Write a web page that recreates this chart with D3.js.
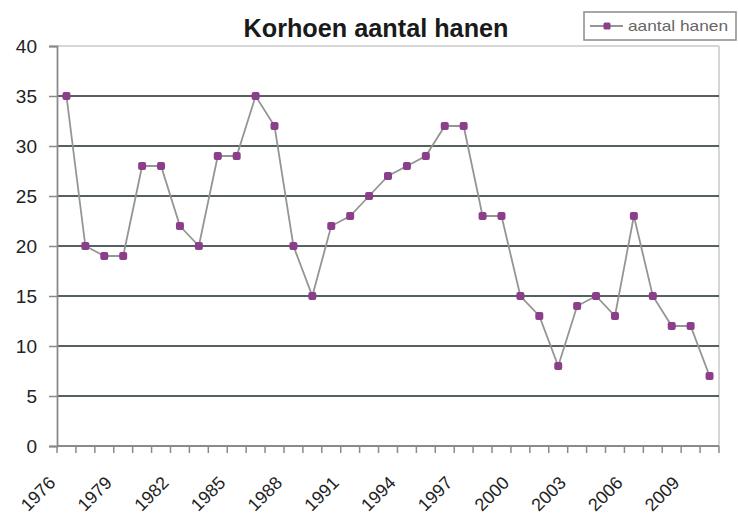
<!DOCTYPE html>
<html>
<head>
<meta charset="utf-8">
<script src="https://cdn.jsdelivr.net/npm/d3@7"></script>
<style>
  body { margin: 0; background: #fff; }
  svg { display: block; font-family: "Liberation Sans", Arial, sans-serif; }
</style>
</head>
<body>
<svg id="chart" width="738" height="520"></svg>
<script>
const years = d3.range(1976, 2011);
const hanen = [35,20,19,19,28,28,22,20,29,29,35,32,20,15,22,23,25,27,28,29,32,32,23,23,15,13,8,14,15,13,23,15,12,12,7];
const yTicks = [0,5,10,15,20,25,30,35,40];
const xTickLabels = [1976,1979,1982,1985,1988,1991,1994,1997,2000,2003,2006,2009];
const title = "Korhoen aantal hanen";
const seriesName = "aantal hanen";

const svg = d3.select("#chart");
const pL = 57, pR = 719, pT = 46, pB = 446;

const x = d3.scaleBand().domain(years).range([pL, pR]).padding(0);
const y = d3.scaleLinear().domain([0, 40]).range([pB, pT]);

// plot border (top, right)
svg.append("line").attr("x1", pL).attr("x2", pR).attr("y1", pT).attr("y2", pT)
  .attr("stroke", "#c8c8c8").attr("stroke-width", 1.5);
svg.append("line").attr("x1", pR).attr("x2", pR).attr("y1", pT).attr("y2", pB)
  .attr("stroke", "#c8c8c8").attr("stroke-width", 1.5);

// gridlines
svg.append("g").selectAll("line").data(yTicks.filter(d => d > 0 && d < 40)).join("line")
  .attr("x1", pL).attr("x2", pR)
  .attr("y1", d => y(d)).attr("y2", d => y(d))
  .attr("stroke", "#56605f").attr("stroke-width", 2);

// y axis
const yAxis = svg.append("g").attr("transform", `translate(${pL},0)`)
  .call(d3.axisLeft(y).tickValues(yTicks).tickSize(8).tickPadding(12));
yAxis.select(".domain").attr("stroke", "#8a8a8a").attr("stroke-width", 1.8);
yAxis.selectAll(".tick line").attr("stroke", "#8a8a8a").attr("stroke-width", 1.5);
yAxis.selectAll(".tick text").attr("font-size", 19).attr("fill", "#222")
  .attr("font-family", "Liberation Sans, Arial, sans-serif");

// x axis (ticks at band boundaries)
const xAxisG = svg.append("g");
xAxisG.append("line").attr("x1", pL).attr("x2", pR).attr("y1", pB).attr("y2", pB)
  .attr("stroke", "#8a8a8a").attr("stroke-width", 1.8);
const bounds = years.map(d => x(d)).concat([x(years[years.length-1]) + x.bandwidth()]);
xAxisG.selectAll("line.tk").data(bounds).join("line").attr("class", "tk")
  .attr("x1", d => d).attr("x2", d => d).attr("y1", pB).attr("y2", pB + 7)
  .attr("stroke", "#8a8a8a").attr("stroke-width", 1.5);
xAxisG.selectAll("text").data(xTickLabels).join("text")
  .attr("transform", d => `translate(${x(d) + x.bandwidth()/2 - 10},${pB + 38}) rotate(-45)`)
  .attr("text-anchor", "end")
  .attr("font-size", 18).attr("fill", "#222")
  .text(d => d);

// line
const line = d3.line().x((d, i) => x(years[i]) + x.bandwidth()/2).y(d => y(d));
svg.append("path").datum(hanen).attr("d", line)
  .attr("fill", "none").attr("stroke", "#959595").attr("stroke-width", 1.8);

// markers
svg.append("g").selectAll("rect").data(hanen).join("rect")
  .attr("x", (d, i) => x(years[i]) + x.bandwidth()/2 - 4)
  .attr("y", d => y(d) - 4)
  .attr("width", 8).attr("height", 8).attr("rx", 2)
  .attr("fill", "#8b3f8b");

// title
svg.append("text").attr("x", 376).attr("y", 37).attr("text-anchor", "middle")
  .attr("font-size", 25).attr("font-weight", "bold").attr("fill", "#1a1a1a")
  .attr("textLength", 265).attr("lengthAdjust", "spacingAndGlyphs")
  .text(title);

// legend
const lg = svg.append("g");
lg.append("rect").attr("x", 584).attr("y", 12).attr("width", 152).attr("height", 28)
  .attr("fill", "#fff").attr("stroke", "#8a8a8a").attr("stroke-width", 1.5);
lg.append("line").attr("x1", 590).attr("x2", 623).attr("y1", 26).attr("y2", 26)
  .attr("stroke", "#959595").attr("stroke-width", 1.8);
lg.append("rect").attr("x", 607 - 3.5).attr("y", 26 - 3.5).attr("width", 7).attr("height", 7)
  .attr("rx", 1.5).attr("fill", "#8b3f8b");
lg.append("text").attr("x", 628).attr("y", 31).attr("font-size", 15).attr("fill", "#666")
  .attr("textLength", 100).attr("lengthAdjust", "spacingAndGlyphs")
  .text(seriesName);
</script>
</body>
</html>
